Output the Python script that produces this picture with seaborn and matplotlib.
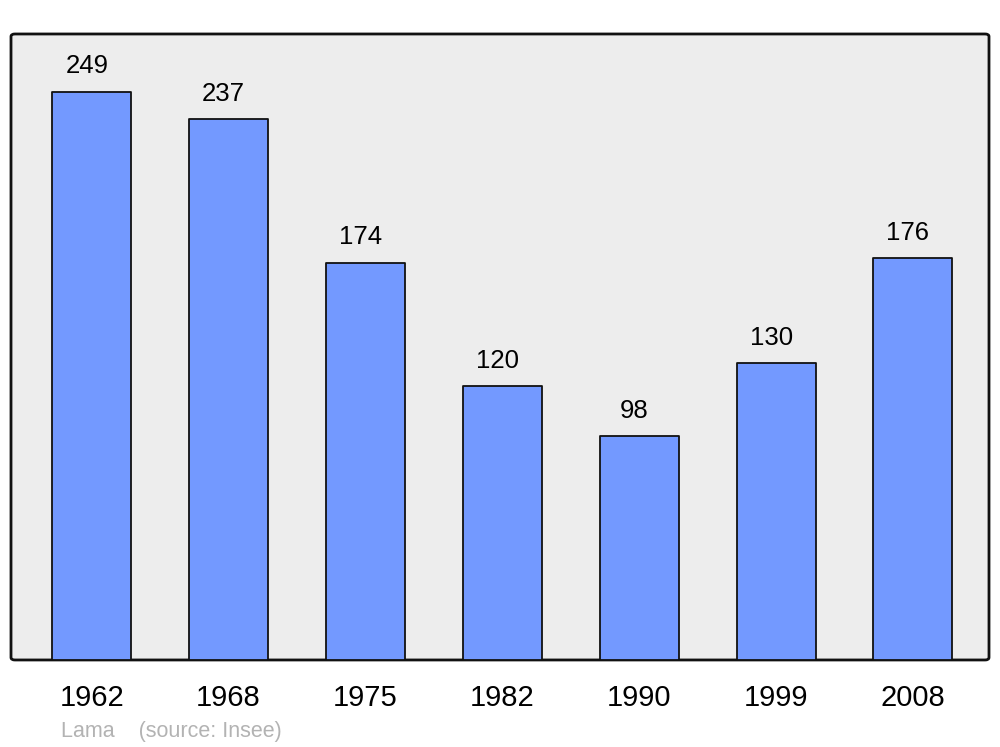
import matplotlib
matplotlib.use("Agg")
import matplotlib.pyplot as plt
import seaborn as sns
import pandas as pd
from matplotlib.patches import FancyBboxPatch

years = ["1962", "1968", "1975", "1982", "1990", "1999", "2008"]
population = [249, 237, 174, 120, 98, 130, 176]
source_text = "Lama    (source: Insee)"


def main():
    sns.set_style("white")
    plt.rcParams['font.family'] = ['Liberation Sans', 'DejaVu Sans']

    df = pd.DataFrame({'year': years, 'pop': population})

    fig = plt.figure(figsize=(10, 7.47), dpi=100)
    ax = fig.add_axes([0.011, 0.1165, 0.978, 0.838])
    ax.set_facecolor('none')

    # rounded frame
    frame = FancyBboxPatch((0, 0), 1, 1, boxstyle="round,pad=0,rounding_size=0.004",
                           transform=ax.transAxes, facecolor='#ededed',
                           edgecolor='#111111', linewidth=2, zorder=0, clip_on=False)
    ax.add_patch(frame)

    sns.barplot(data=df, x='year', y='pop', color='#7399ff', saturation=1,
                width=0.577, edgecolor='#111111', linewidth=1.3, ax=ax, zorder=2)
    for p in ax.patches:
        p.set_joinstyle('round')

    for i, v in enumerate(population):
        ax.text(i - 0.036, v + 6, str(v), ha='center', va='bottom',
                fontsize=18.5, color='black')

    ax.set_xlim(-0.59, 6.556)
    ax.set_ylim(0, 274.4)
    ax.set_yticks([])
    ax.set_xlabel('')
    ax.set_ylabel('')
    ax.tick_params(axis='x', length=0, pad=17, labelsize=21, labelcolor='black')
    for s in ax.spines.values():
        s.set_visible(False)

    fig.text(0.061, 0.0134, source_text, fontsize=15.5, color='#b3b3b3',
             ha='left', va='baseline')

    fig.savefig('out.png', dpi=100)


if __name__ == '__main__':
    main()
